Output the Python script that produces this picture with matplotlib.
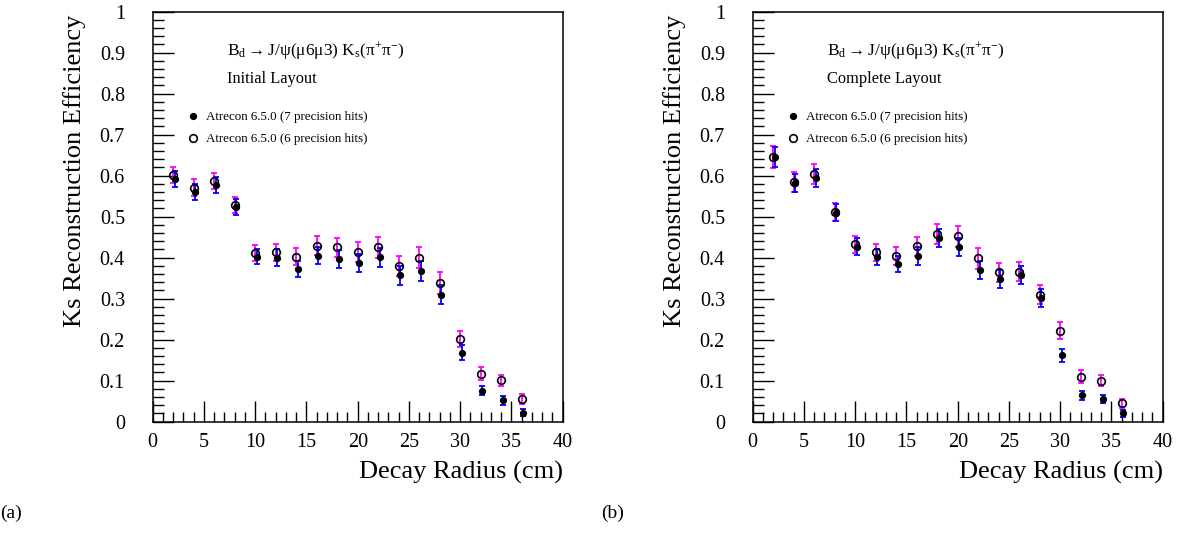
import numpy as np
import matplotlib.pyplot as plt
from matplotlib.lines import Line2D
from matplotlib.ticker import MultipleLocator, FixedLocator

plt.rcParams['font.family'] = ['Liberation Serif', 'DejaVu Serif']
plt.rcParams['mathtext.fontset'] = 'custom'
plt.rcParams['mathtext.rm'] = 'Liberation Serif'
plt.rcParams['mathtext.it'] = 'Liberation Serif:italic'

# decay radius bins (cm)
radius = [2, 4, 6, 8, 10, 12, 14, 16, 18, 20, 22, 24, 26, 28, 30, 32, 34, 36]

# (a) initial layout
init_hits7 = [0.592, 0.560, 0.577, 0.523, 0.402, 0.400, 0.372, 0.405, 0.396, 0.387,
              0.401, 0.357, 0.368, 0.310, 0.168, 0.076, 0.052, 0.022]
init_hits7_err = [0.020, 0.020, 0.020, 0.020, 0.018, 0.020, 0.020, 0.021, 0.022, 0.022,
                  0.023, 0.023, 0.024, 0.024, 0.018, 0.012, 0.011, 0.009]
init_hits6 = [0.602, 0.571, 0.587, 0.528, 0.411, 0.413, 0.402, 0.429, 0.425, 0.413,
              0.425, 0.380, 0.400, 0.338, 0.202, 0.117, 0.101, 0.055]
init_hits6_err = [0.020, 0.020, 0.020, 0.020, 0.019, 0.020, 0.021, 0.023, 0.024, 0.024,
                  0.025, 0.024, 0.025, 0.026, 0.020, 0.016, 0.014, 0.013]

# (b) complete layout
comp_hits7 = [0.645, 0.583, 0.595, 0.510, 0.427, 0.402, 0.384, 0.404, 0.448, 0.427,
              0.370, 0.348, 0.357, 0.302, 0.162, 0.065, 0.055, 0.020]
comp_hits7_err = [0.025, 0.022, 0.022, 0.020, 0.020, 0.020, 0.020, 0.021, 0.022, 0.022,
                  0.022, 0.022, 0.022, 0.022, 0.016, 0.011, 0.010, 0.008]
comp_hits6 = [0.646, 0.585, 0.604, 0.512, 0.433, 0.413, 0.404, 0.428, 0.458, 0.452,
              0.398, 0.364, 0.366, 0.310, 0.222, 0.110, 0.100, 0.045]
comp_hits6_err = [0.027, 0.025, 0.025, 0.022, 0.021, 0.021, 0.022, 0.023, 0.024, 0.025,
                  0.025, 0.024, 0.024, 0.024, 0.020, 0.015, 0.013, 0.011]

y_ticks = [0, 0.1, 0.2, 0.3, 0.4, 0.5, 0.6, 0.7, 0.8, 0.9, 1]
y_ticklabels = ['0', '0.1', '0.2', '0.3', '0.4', '0.5', '0.6', '0.7', '0.8', '0.9', '1']

title = r'$\mathrm{B_d \rightarrow J/ψ(μ6μ3)\ K_s(π^{+}π^{-})}$'
legend_labels = ['Atrecon 6.5.0 (7 precision hits)', 'Atrecon 6.5.0 (6 precision hits)']


def draw_panel(ax, hits7, err7, hits6, err6, layout):
    x6 = np.array(radius, dtype=float)
    x7 = x6 + 0.15
    ax.errorbar(x6, hits6, yerr=err6, fmt='none', ecolor='#ff00ff', elinewidth=1.3,
                capsize=2, capthick=1.3, zorder=2)
    ax.errorbar(x7, hits7, yerr=err7, fmt='none', ecolor='#0000ff', elinewidth=1.3,
                capsize=2, capthick=1.3, zorder=3)
    ax.plot(x6, hits6, 'o', ms=5.5, mfc='none', mec='black', mew=1.2, zorder=4)
    ax.plot(x7, hits7, 'o', ms=4.2, mfc='black', mec='black', zorder=5)

    ax.set_xlim(0, 40)
    ax.set_ylim(0, 1)
    ax.xaxis.set_major_locator(MultipleLocator(5))
    ax.xaxis.set_minor_locator(MultipleLocator(1))
    ax.yaxis.set_major_locator(FixedLocator(y_ticks))
    ax.yaxis.set_minor_locator(MultipleLocator(0.02))
    ax.set_yticklabels(y_ticklabels)
    ax.tick_params(which='both', direction='in', top=False, right=False, width=1.0,
                   labelsize=14.5)
    ax.tick_params(axis='y', which='major', length=15, pad=20)
    ax.tick_params(axis='y', which='minor', length=8)
    ax.tick_params(axis='x', which='major', length=15, pad=8)
    ax.tick_params(axis='x', which='minor', length=7.5)
    for sp in ax.spines.values():
        sp.set_linewidth(1.1)

    ax.text(-0.19, 0.992, 'Ks Reconstruction Efficiency', transform=ax.transAxes,
            rotation=90, ha='center', va='top', fontsize=19)
    ax.text(1.0, -0.125, 'Decay Radius (cm)', transform=ax.transAxes,
            ha='right', va='center', fontsize=19)

    ax.text(0.181, 0.905, title, transform=ax.transAxes, ha='left', va='center',
            fontsize=12.5)
    ax.text(0.181, 0.836, layout, transform=ax.transAxes, ha='left', va='center',
            fontsize=11.8)

    handles = [Line2D([], [], ls='none', marker='o', ms=4.2, mfc='black', mec='black'),
               Line2D([], [], ls='none', marker='o', ms=5.5, mfc='none', mec='black', mew=1.2)]
    ax.legend(handles, legend_labels, loc='upper left', bbox_to_anchor=(0.07, 0.77),
              frameon=False, fontsize=9.4, handlelength=1.0, handletextpad=0.5,
              labelspacing=0.75, borderaxespad=0)


fig = plt.figure(figsize=(11.82, 5.35), dpi=100)
ax1 = fig.add_axes([0.1292, 0.2118, 0.3469, 0.7665])
ax2 = fig.add_axes([0.6368, 0.2118, 0.3469, 0.7665])

draw_panel(ax1, init_hits7, init_hits7_err, init_hits6, init_hits6_err, 'Initial Layout')
draw_panel(ax2, comp_hits7, comp_hits7_err, comp_hits6, comp_hits6_err, 'Complete Layout')

fig.text(0.0, 0.04, '(a)', ha='left', va='center', fontsize=14)
fig.text(0.5085, 0.04, '(b)', ha='left', va='center', fontsize=14)

fig.savefig('out.png', dpi=100)
